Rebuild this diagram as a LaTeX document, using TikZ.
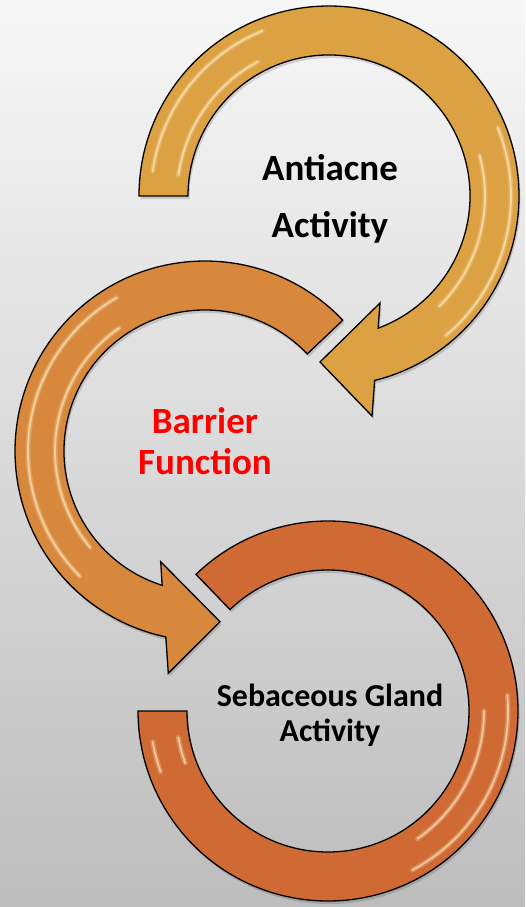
\documentclass[tikz,border=0pt]{standalone}
\usepackage{fontspec}
\setmainfont{Carlito}
\usetikzlibrary{calc}
\definecolor{bgtop}{HTML}{F7F7F7}
\definecolor{bgbot}{HTML}{BDBDBD}
\definecolor{arrA}{HTML}{DBA143}
\definecolor{arrB}{HTML}{D7883D}
\definecolor{arrC}{HTML}{D06A35}
\definecolor{gloss}{HTML}{FFF0C8}
\definecolor{labelred}{HTML}{FF0000}
\begin{document}
\begin{tikzpicture}[x=1pt,y=1pt,
  arrowshape/.style={draw=black, line width=1.3pt, line join=miter,
    preaction={fill=black, opacity=0.14, transform canvas={shift={(1.5pt,-3pt)}}}},
  glossline/.style={draw=gloss, line width=5pt, line cap=round, opacity=0.25,
    postaction={draw=gloss, line width=1.8pt, opacity=0.6}},
  lblbig/.style={font=\bfseries\fontsize{37}{44}\selectfont, anchor=base, inner sep=0pt},
  lblmid/.style={font=\bfseries\fontsize{37}{44}\selectfont, anchor=base, inner sep=0pt, text=labelred},
  lblsmall/.style={font=\bfseries\fontsize{32}{38}\selectfont, anchor=base, inner sep=0pt}]
\useasboundingbox (0,0) rectangle (525,-907);
\shade[top color=bgtop, bottom color=bgbot] (0,0) rectangle (525,-907);

\coordinate (C1) at (329,-196);
\coordinate (C2) at (205,-451);
\coordinate (C3) at (328,-711);

% arrow 1 (top)
\draw[arrowshape, fill=arrA] ($(C1)+(180:190)$) arc[start angle=180,end angle=-76.1,radius=190]
  -- (372,-416) -- (320,-362) -- (380,-303) -- ($(C1)+(-69.6:141)$)
  arc[start angle=-69.6,end angle=180,radius=141] -- cycle;
\draw[glossline] ($(C1)+(172:178)$) arc[start angle=172,end angle=112,radius=178];
\draw[glossline] ($(C1)+(172:152)$) arc[start angle=172,end angle=118,radius=152];
\draw[glossline] ($(C1)+(22:182)$) arc[start angle=22,end angle=-50,radius=182];
\draw[glossline] ($(C1)+(15:156)$) arc[start angle=15,end angle=-45,radius=156];

% arrow 2 (middle)
\draw[arrowshape, fill=arrB] ($(C2)+(43.5:190)$) arc[start angle=43.5,end angle=258.1,radius=190]
  -- (168.3,-673.3) -- (220,-621.7) -- (160.7,-561.7) -- ($(C2)+(252.3:141)$)
  arc[start angle=252.3,end angle=43.5,radius=141] -- cycle;
\draw[glossline] ($(C2)+(120:177)$) arc[start angle=120,end angle=225,radius=177];
\draw[glossline] ($(C2)+(125:150)$) arc[start angle=125,end angle=220,radius=150];

% arrow 3 (bottom)
\draw[arrowshape, fill=arrC] ($(C3)+(134:190)$) arc[start angle=134,end angle=-180,radius=190]
  -- ($(C3)+(180:141)$) arc[start angle=-180,end angle=134,radius=141] -- cycle;
\draw[glossline] ($(C3)+(5:180)$) arc[start angle=5,end angle=-62,radius=180];
\draw[glossline] ($(C3)+(0:156)$) arc[start angle=0,end angle=-55,radius=156];
\draw[glossline] ($(C3)+(-170:178)$) arc[start angle=-170,end angle=-160,radius=178];
\draw[glossline] ($(C3)+(-170:152)$) arc[start angle=-170,end angle=-160,radius=152];

% labels
\node[lblbig] (t1a) at (330,-180) {Antiacne};
\node[lblbig] (t1b) at (330,-237) {Activity};
\node[lblmid] (t2a) at (205,-433.3) {Barrier};
\node[lblmid] (t2b) at (205,-474) {Function};
\node[lblsmall] (t3a) at (330,-706.7) {Sebaceous Gland};
\node[lblsmall] (t3b) at (330,-741.7) {Activity};
\end{tikzpicture}
\end{document}
